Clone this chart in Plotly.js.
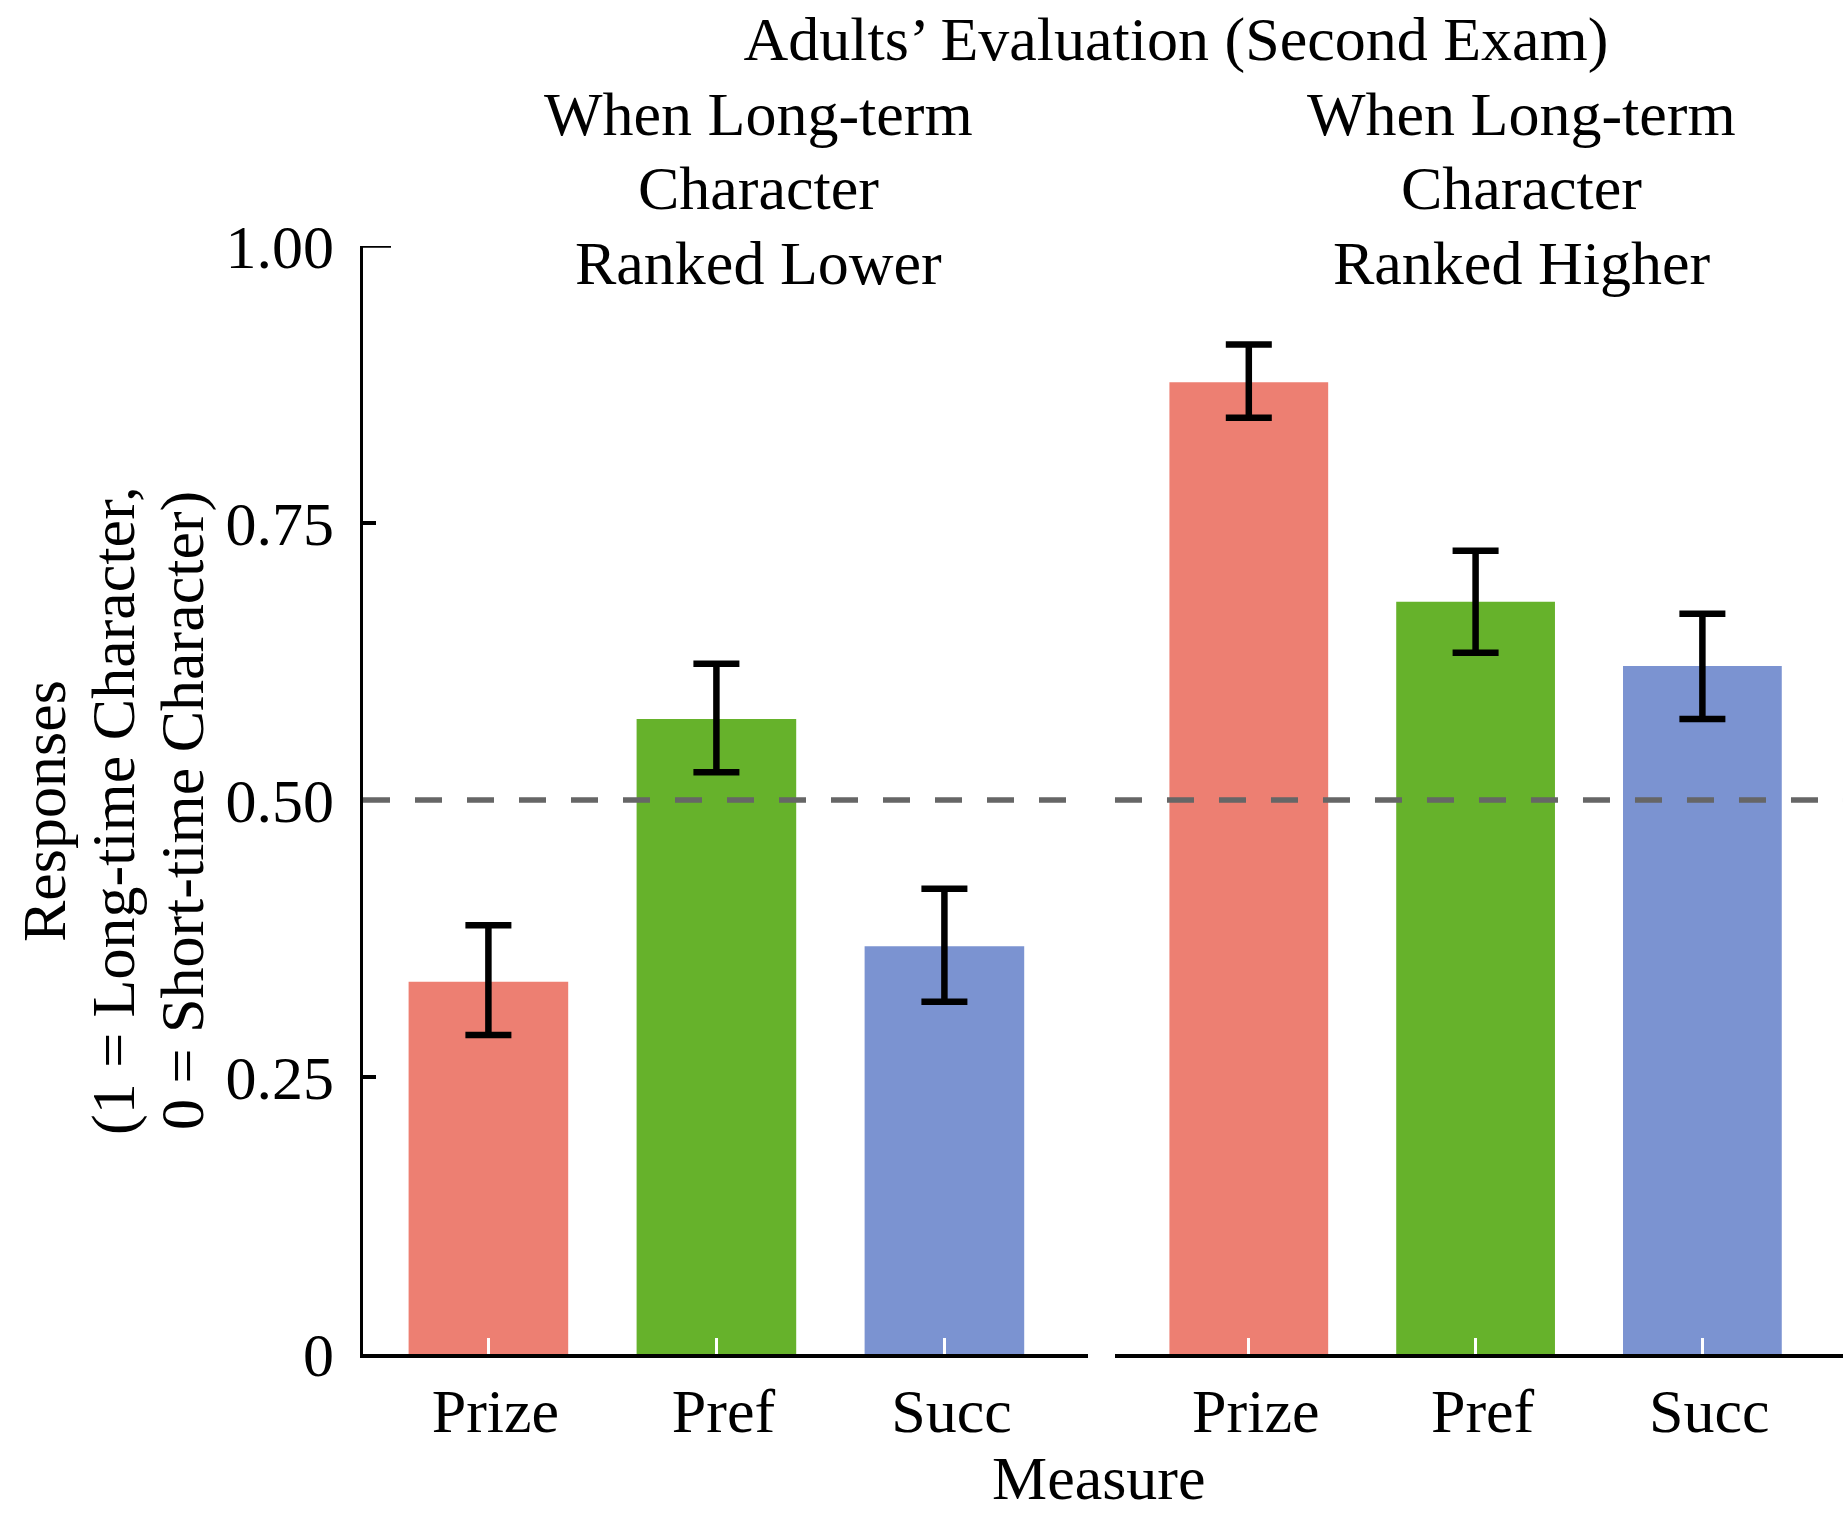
<!DOCTYPE html>
<html>
<head>
<meta charset="utf-8">
<script src="https://cdn.plot.ly/plotly-3.0.1.min.js"></script>
<style>html,body{margin:0;padding:0;background:#fff;}</style>
</head>
<body>
<div id="chart" style="width:1843px;height:1514px;"></div>
<script>
// ---- data ----
const measures = ["Prize", "Pref", "Succ"];
const panelLabelsLower  = ["When Long-term", "Character", "Ranked Lower"];
const panelLabelsHigher = ["When Long-term", "Character", "Ranked Higher"];
const yTitleLines = ["Responses", "(1 = Long-time Character,", "0 = Short-time Character)"];
const lowerMean  = [0.336, 0.573, 0.368];
const lowerHigh  = [0.387, 0.623, 0.420];
const lowerLow   = [0.288, 0.525, 0.318];
const higherMean = [0.877, 0.679, 0.621];
const higherHigh = [0.911, 0.725, 0.668];
const higherLow  = [0.845, 0.633, 0.573];
const yTickVals  = [0, 0.25, 0.5, 0.75, 1];
const yTickText  = ["0", "0.25", "0.50", "0.75", "1.00"];
const chanceLevel = 0.5;
const barColors = ["#ED7F72", "#66B22B", "#7B93D1"];

const FONT = "Liberation Serif, Times New Roman, serif";
const FS = 62;

function barTrace(mean, hi, lo, xa) {
  return {
    type: "bar",
    x: measures,
    y: mean,
    xaxis: xa,
    yaxis: "y",
    width: 0.7,
    marker: {color: barColors, line: {width: 0}},
    error_y: {
      type: "data",
      symmetric: false,
      array: hi.map((h, i) => h - mean[i]),
      arrayminus: lo.map((l, i) => mean[i] - l),
      color: "#000000",
      thickness: 6.5,
      width: 23
    },
    showlegend: false,
    hoverinfo: "skip"
  };
}

const data = [
  barTrace(lowerMean, lowerHigh, lowerLow, "x"),
  barTrace(higherMean, higherHigh, higherLow, "x2")
];

const xCommon = {
  type: "category",
  showline: true,
  linecolor: "#000000",
  linewidth: 3.5,
  ticks: "inside",
  ticklen: 16,
  tickwidth: 3,
  tickcolor: "#FFFFFF",
  ticklabelstandoff: 0,
  ticklabelshift: 7,
  showgrid: false,
  zeroline: false,
  tickfont: {family: FONT, size: FS, color: "#000"},
  fixedrange: true
};

// pixel helpers for text placement (plot area: x 363..1843, y 246..1354)
const PL = 363, PW = 1480, PT = 246, PH = 1108;
const px = v => (v - PL) / PW;
const py = v => 1 - (v - PT) / PH;

const annotations = [];
const stripYs = [114, 188, 263];
panelLabelsLower.forEach((t, i) => annotations.push({
  text: t, xref: "paper", yref: "paper", x: px(758), y: py(stripYs[i]),
  xanchor: "center", yanchor: "middle", showarrow: false,
  font: {family: FONT, size: FS, color: "#000"}}));
panelLabelsHigher.forEach((t, i) => annotations.push({
  text: t, xref: "paper", yref: "paper", x: px(1521), y: py(stripYs[i]),
  xanchor: "center", yanchor: "middle", showarrow: false,
  font: {family: FONT, size: FS, color: "#000"}}));
const yTitleXs = [44, 113, 182];
yTitleLines.forEach((t, i) => annotations.push({
  text: t, xref: "paper", yref: "paper", x: px(yTitleXs[i]), y: py(811), textangle: -90,
  xanchor: "center", yanchor: "middle", showarrow: false,
  font: {family: FONT, size: FS, color: "#000"}}));
annotations.push({text: "Measure", xref: "paper", yref: "paper", x: px(1098), y: py(1478),
  xanchor: "center", yanchor: "middle", showarrow: false,
  font: {family: FONT, size: FS, color: "#000"}});

const layout = {
  width: 1843,
  height: 1514,
  margin: {l: 363, r: 0, t: 246, b: 160, pad: 0},
  paper_bgcolor: "#FFFFFF",
  plot_bgcolor: "#FFFFFF",
  font: {family: FONT, size: FS, color: "#000"},
  title: {
    text: "Adults’ Evaluation (Second Exam)",
    font: {family: FONT, size: FS, color: "#000"},
    xref: "paper", x: px(1176), xanchor: "center",
    yref: "container", y: 1 - 38 / 1514, yanchor: "middle"
  },
  xaxis: Object.assign({}, xCommon, {domain: [0, 0.4899], anchor: "y", range: [-0.55, 2.63]}),
  xaxis2: Object.assign({}, xCommon, {domain: [0.5081, 1], anchor: "y", range: [-0.59, 2.62]}),
  yaxis: {
    range: [0, 1],
    anchor: "x",
    tickvals: yTickVals,
    ticktext: yTickText,
    showline: true,
    linecolor: "#000000",
    linewidth: 3.5,
    ticks: "inside",
    ticklen: 13,
    tickwidth: 3.5,
    tickcolor: "#000000",
    ticklabelstandoff: 13,
    showgrid: false,
    zeroline: false,
    tickfont: {family: FONT, size: FS, color: "#000"},
    fixedrange: true
  },
  shapes: [
    {type: "line", xref: "x domain", yref: "y", x0: 0, x1: 1, y0: chanceLevel, y1: chanceLevel,
     line: {color: "#666666", width: 5.5, dash: "27px,25px"}, layer: "above"},
    {type: "line", xref: "x2 domain", yref: "y", x0: 0, x1: 1, y0: chanceLevel, y1: chanceLevel,
     line: {color: "#666666", width: 5.5, dash: "27px,25px"}, layer: "above"},
    {type: "line", xref: "x domain", yref: "y", xsizemode: "pixel", xanchor: 0, x0: 0, x1: 28,
     y0: yTickVals[4], y1: yTickVals[4], line: {color: "#000000", width: 3.5}, layer: "above"}
  ],
  annotations: annotations
};

Plotly.newPlot("chart", data, layout, {displayModeBar: false, staticPlot: true});
</script>
</body>
</html>
